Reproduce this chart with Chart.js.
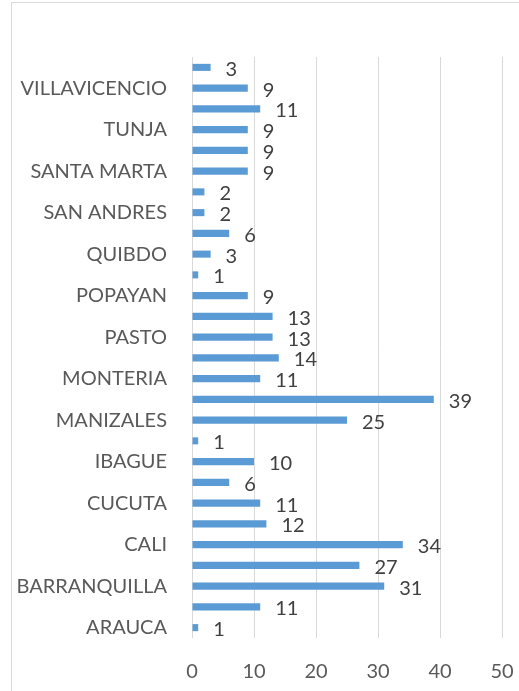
<!DOCTYPE html>
<html>
<head>
<meta charset="utf-8">
<script src="https://cdn.jsdelivr.net/npm/chart.js@4/dist/chart.umd.min.js"></script>
<style>
    html, body { margin: 0; padding: 0; background: #fff; overflow: hidden; }
    #wrap { position: relative; width: 519px; height: 691px; }
    #frame { position: absolute; left: 11px; top: 2px; width: 600px; height: 800px; border: 1px solid #d9d9d9; box-sizing: border-box; }
    canvas { position: absolute; left: 0; top: 0; }
</style>
</head>
<body>
<div id="wrap">
    <div id="frame"></div>
    <canvas id="cityChart" width="519" height="691"></canvas>
</div>
<script>
// categories bottom-to-top; only every other name is shown on the axis
const cities = [
    "ARAUCA", "", "BARRANQUILLA", "", "CALI", "", "CUCUTA", "", "IBAGUE", "",
    "MANIZALES", "", "MONTERIA", "", "PASTO", "", "POPAYAN", "", "QUIBDO", "",
    "SAN ANDRES", "", "SANTA MARTA", "", "TUNJA", "", "VILLAVICENCIO", ""
];
const counts = [
    1, 11, 31, 27, 34, 12, 11, 6, 10, 1,
    25, 39, 11, 14, 13, 13, 9, 1, 3, 6,
    2, 2, 9, 9, 9, 11, 9, 3
];
const xTicks = [0, 10, 20, 30, 40, 50];

const FONT = "Lato";
const FONT_SIZE = 20;

// draws the value next to each bar, Excel style
const valueLabels = {
    id: "valueLabels",
    afterDatasetsDraw(chart) {
        const ctx = chart.ctx;
        const meta = chart.getDatasetMeta(0);
        ctx.save();
        ctx.font = `${FONT_SIZE}px ${FONT}`;
        ctx.fillStyle = "#404040";
        ctx.textAlign = "left";
        ctx.textBaseline = "middle";
        meta.data.forEach((bar, i) => {
            ctx.fillText(String(counts[i]), bar.x + 15, bar.y + 2);
        });
        ctx.restore();
    }
};

new Chart(document.getElementById("cityChart"), {
    type: "bar",
    data: {
        labels: cities,
        datasets: [{
            data: counts,
            backgroundColor: "#5b9bd5",
            borderWidth: 0,
            categoryPercentage: 1,
            barPercentage: 0.34,
        }],
    },
    options: {
        indexAxis: "y",
        responsive: false,
        animation: false,
        layout: { padding: { top: 57, right: 17, bottom: 0, left: 0 } },
        plugins: {
            legend: { display: false },
            tooltip: { enabled: false },
        },
        scales: {
            x: {
                min: 0,
                max: 50,
                afterBuildTicks(scale) {
                    scale.ticks = xTicks.map(v => ({ value: v }));
                },
                afterFit(scale) { scale.height = 53; },
                // tick marks kept invisible, their length only spaces the labels
                grid: { color: "#d9d9d9", drawTicks: true, tickLength: 22, tickColor: "rgba(0,0,0,0)" },
                border: { display: false },
                ticks: {
                    padding: 0,
                    color: "#595959",
                    font: { family: FONT, size: FONT_SIZE },
                },
            },
            y: {
                reverse: true,
                afterFit(scale) { scale.width = 192; },
                grid: { display: false },
                border: { display: false },
                ticks: {
                    autoSkip: false,
                    padding: 17,
                    color: "#595959",
                    font: { family: FONT, size: FONT_SIZE },
                },
            },
        },
    },
    plugins: [valueLabels],
});
</script>
</body>
</html>
